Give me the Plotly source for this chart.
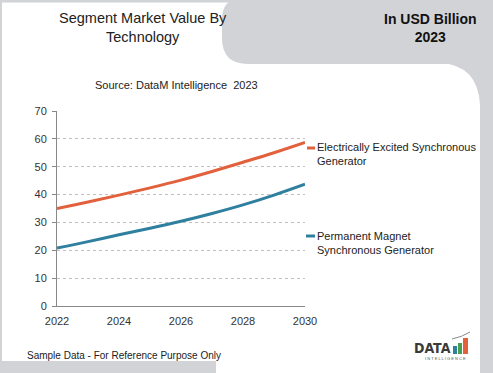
import plotly.graph_objects as go

years = [2022, 2023, 2024, 2025, 2026, 2027, 2028, 2029, 2030]
electrically_excited = [35.0, 37.3, 39.8, 42.4, 45.2, 48.3, 51.6, 55.0, 58.7]
permanent_magnet = [20.8, 23.1, 25.6, 27.9, 30.4, 33.2, 36.3, 39.8, 43.7]
series_names = ["Electrically Excited Synchronous<br>Generator",
                "Permanent Magnet<br>Synchronous Generator"]
title_text = "Segment Market Value By<br>Technology"
unit_text = "<b>In USD Billion<br>2023</b>"
source_text = "Source: DataM Intelligence  2023"
footer_text = "Sample Data - For Reference Purpose Only"

W, H = 493, 373
L, R, T, B = 57, 305, 111, 306
GRAY = "#d1d3d6"
ORANGE = "#e2603b"
BLUE = "#2f7f9f"


def px(x):
    return (x - L) / (R - L)


def py(y):
    return (B - y) / (B - T)


fig = go.Figure()
fig.add_trace(go.Scatter(x=years, y=electrically_excited, mode="lines",
                         line=dict(color=ORANGE, width=3, shape="spline"),
                         hoverinfo="x+y", showlegend=False))
fig.add_trace(go.Scatter(x=years, y=permanent_magnet, mode="lines",
                         line=dict(color=BLUE, width=3, shape="spline"),
                         hoverinfo="x+y", showlegend=False))

shapes = []
# top-right gray blob
path_top = (f"M {px(240)},{py(-1)} L {px(494)},{py(-1)} L {px(494)},{py(64)} "
            f"L {px(248)},{py(64)} Q {px(222)},{py(64)} {px(222)},{py(38)} "
            f"L {px(222)},{py(20)} Q {px(222)},{py(-1)} {px(240)},{py(-1)} Z")
shapes.append(dict(type="path", path=path_top, xref="paper", yref="paper",
                   fillcolor=GRAY, line=dict(width=0), layer="below"))
# right strip with rounded inner corner
path_right = (f"M {px(440)},{py(63)} L {px(494)},{py(63)} L {px(494)},{py(374)} "
              f"L {px(480)},{py(374)} L {px(480)},{py(105)} "
              f"Q {px(478)},{py(65)} {px(440)},{py(63)} Z")
shapes.append(dict(type="path", path=path_right, xref="paper", yref="paper",
                   fillcolor=GRAY, line=dict(width=0), layer="below"))
# thin top and left borders
shapes.append(dict(type="rect", xref="paper", yref="paper",
                   x0=px(-1), x1=px(494), y0=py(-1), y1=py(2.5),
                   fillcolor=GRAY, line=dict(width=0), layer="below"))
shapes.append(dict(type="rect", xref="paper", yref="paper",
                   x0=px(-1), x1=px(2), y0=py(-1), y1=py(374),
                   fillcolor=GRAY, line=dict(width=0), layer="below"))
# bottom-left strip
shapes.append(dict(type="rect", xref="paper", yref="paper",
                   x0=px(-1), x1=px(216), y0=py(361), y1=py(374),
                   fillcolor=GRAY, line=dict(width=0), layer="below"))
# legend keys
shapes.append(dict(type="line", xref="paper", yref="paper",
                   x0=px(307), x1=px(315), y0=py(148), y1=py(148),
                   line=dict(color=ORANGE, width=3)))
shapes.append(dict(type="line", xref="paper", yref="paper",
                   x0=px(306), x1=px(315), y0=py(236), y1=py(236),
                   line=dict(color=BLUE, width=3)))
# logo bars
bar_specs = [(453, 457, 346, "#2f7f9f"), (458, 462, 343, "#4aa04a"), (463, 468, 338, "#e2603b")]
for x0, x1, ytop, c in bar_specs:
    shapes.append(dict(type="rect", xref="paper", yref="paper",
                       x0=px(x0), x1=px(x1), y0=py(354), y1=py(ytop),
                       fillcolor=c, line=dict(width=0)))
shapes.append(dict(type="path", xref="paper", yref="paper",
                   path=f"M {px(452)},{py(339)} Q {px(462)},{py(337)} {px(470)},{py(332)}",
                   line=dict(color="#888", width=1)))

annotations = [
    dict(text=title_text, x=px(143), y=py(28), xref="paper", yref="paper",
         showarrow=False, font=dict(size=14.5, color="#222"), xanchor="center", yanchor="middle"),
    dict(text=unit_text, x=px(430), y=py(28), xref="paper", yref="paper",
         showarrow=False, font=dict(size=14, color="#111"), xanchor="center", yanchor="middle"),
    dict(text=source_text, x=px(176), y=py(85), xref="paper", yref="paper",
         showarrow=False, font=dict(size=11, color="#222"), xanchor="center", yanchor="middle"),
    dict(text=series_names[0], x=px(315), y=py(154), xref="paper", yref="paper",
         showarrow=False, font=dict(size=11, color="#222"), xanchor="left", yanchor="middle",
         align="left"),
    dict(text=series_names[1], x=px(315), y=py(243), xref="paper", yref="paper",
         showarrow=False, font=dict(size=11, color="#222"), xanchor="left", yanchor="middle",
         align="left"),
    dict(text=footer_text, x=px(25), y=py(355), xref="paper", yref="paper",
         showarrow=False, font=dict(size=10, color="#222"), xanchor="left", yanchor="middle"),
    dict(text="<b>DATA</b>", x=px(453), y=py(348), xref="paper", yref="paper",
         showarrow=False, font=dict(size=14, color="#3a3a3a", family="Liberation Sans Narrow, DejaVu Sans Condensed, Liberation Sans"),
         xanchor="right", yanchor="middle"),
    dict(text="I N T E L L I G E N C E", x=px(445), y=py(358), xref="paper", yref="paper",
         showarrow=False, font=dict(size=4, color="#555"), xanchor="center", yanchor="middle"),
]

fig.update_layout(
    width=W, height=H, autosize=False,
    margin=dict(l=L, r=W - R, t=T, b=H - B, pad=0),
    paper_bgcolor="white", plot_bgcolor="white",
    font=dict(family="Liberation Sans, Arial, sans-serif", color="#333"),
    shapes=shapes, annotations=annotations,
    xaxis=dict(range=[2022, 2030], tickvals=[2022, 2024, 2026, 2028, 2030],
               showgrid=False, zeroline=False, showline=True, linecolor="#888",
               linewidth=1, ticks="", ticklabelstandoff=5,
               tickfont=dict(size=11, color="#333"), fixedrange=True),
    yaxis=dict(range=[0, 70], dtick=10, showgrid=True, gridcolor="#c0c0c0",
               griddash="dot", gridwidth=1, zeroline=False, showline=True,
               linecolor="#888", linewidth=1, ticks="outside", ticklen=4,
               ticklabelstandoff=3,
               tickcolor="#888", tickfont=dict(size=11, color="#333"), fixedrange=True),
)

fig.write_html("out.html", config={"displayModeBar": False},
               post_script="document.body.style.margin='0';")
